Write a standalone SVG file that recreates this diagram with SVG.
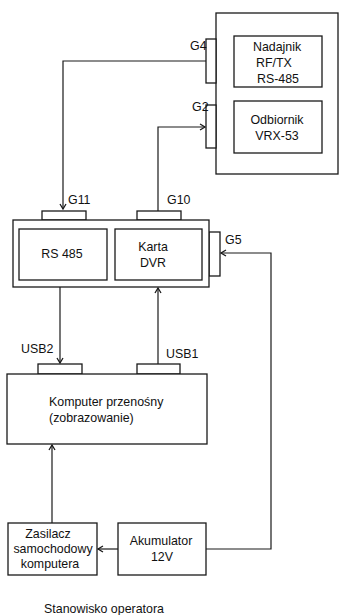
<svg xmlns="http://www.w3.org/2000/svg" width="339" height="615" viewBox="0 0 339 615">
<style>
.b{fill:#fff;stroke:#1a1a1a;stroke-width:1.3}
.t{font-family:"Liberation Sans",Arial,sans-serif;font-size:12.4px;fill:#111}
.m{text-anchor:middle}
.c{fill:none;stroke:#1a1a1a;stroke-width:1.2}
</style>
<defs>
<marker id="a" markerWidth="8" markerHeight="8" refX="6" refY="4" orient="auto" markerUnits="userSpaceOnUse">
<path d="M1,1 L6,4 L1,7" fill="none" stroke="#1a1a1a" stroke-width="1.3"/>
</marker>
</defs>
<rect width="339" height="615" fill="#fff"/>
<g id="connectors">
<path class="c" d="M206,61 H63 V209" marker-end="url(#a)"/>
<path class="c" d="M158,211 V127 H205" marker-end="url(#a)"/>
<path class="c" d="M60,287 V363" marker-end="url(#a)"/>
<path class="c" d="M158,364 V288" marker-end="url(#a)"/>
<path class="c" d="M52,523 V445" marker-end="url(#a)"/>
<path class="c" d="M118,549 H98" marker-end="url(#a)"/>
<path class="c" d="M206,549 H271 V253 H221" marker-end="url(#a)"/>
</g>
<g id="radio">
<rect class="b" x="216" y="13" width="122" height="161"/>
<rect class="b" x="206" y="39" width="10" height="44"/>
<rect class="b" x="206" y="105" width="10" height="43"/>
<text class="t" x="190" y="50">G4</text>
<text class="t" x="192" y="111">G2</text>
</g>
<g id="nadajnik">
<rect class="b" x="234" y="36" width="88" height="51"/>
<text class="t" x="253" y="51">Nadajnik</text>
<text class="t" x="256" y="67">RF/TX</text>
<text class="t" x="257" y="83">RS-485</text>
</g>
<g id="odbiornik">
<rect class="b" x="234" y="101" width="88" height="52"/>
<text class="t m" x="277" y="124">Odbiornik</text>
<text class="t m" x="277" y="140">VRX-53</text>
</g>
<g id="modul">
<rect class="b" x="42" y="211" width="44" height="9"/>
<rect class="b" x="137" y="211" width="44" height="9"/>
<rect class="b" x="209" y="232" width="11" height="44"/>
<rect class="b" x="13" y="220" width="196" height="67"/>
<text class="t" x="68" y="204">G11</text>
<text class="t" x="167" y="204">G10</text>
<text class="t" x="225" y="244">G5</text>
</g>
<g id="rs485">
<rect class="b" x="19" y="229" width="88" height="51"/>
<text class="t m" x="62" y="258">RS 485</text>
</g>
<g id="dvr">
<rect class="b" x="115" y="229" width="87" height="51"/>
<text class="t m" x="153" y="251">Karta</text>
<text class="t m" x="153" y="267">DVR</text>
</g>
<g id="komputer">
<rect class="b" x="38" y="364" width="44" height="10"/>
<rect class="b" x="137" y="364" width="43" height="10"/>
<rect class="b" x="7" y="374" width="200" height="70"/>
<text class="t" x="21" y="353">USB2</text>
<text class="t" x="166" y="358">USB1</text>
<text class="t" x="49" y="406">Komputer przenośny</text>
<text class="t" x="49" y="422">(zobrazowanie)</text>
</g>
<g id="zasilacz">
<rect class="b" x="8" y="523" width="89" height="52"/>
<text class="t m" x="48" y="538">Zasilacz</text>
<text class="t m" x="53" y="553">samochodowy</text>
<text class="t m" x="50" y="568">komputera</text>
</g>
<g id="akumulator">
<rect class="b" x="118" y="523" width="88" height="52"/>
<text class="t m" x="161" y="545">Akumulator</text>
<text class="t m" x="162" y="561">12V</text>
</g>
<text class="t m" x="104" y="613">Stanowisko operatora</text>
</svg>
